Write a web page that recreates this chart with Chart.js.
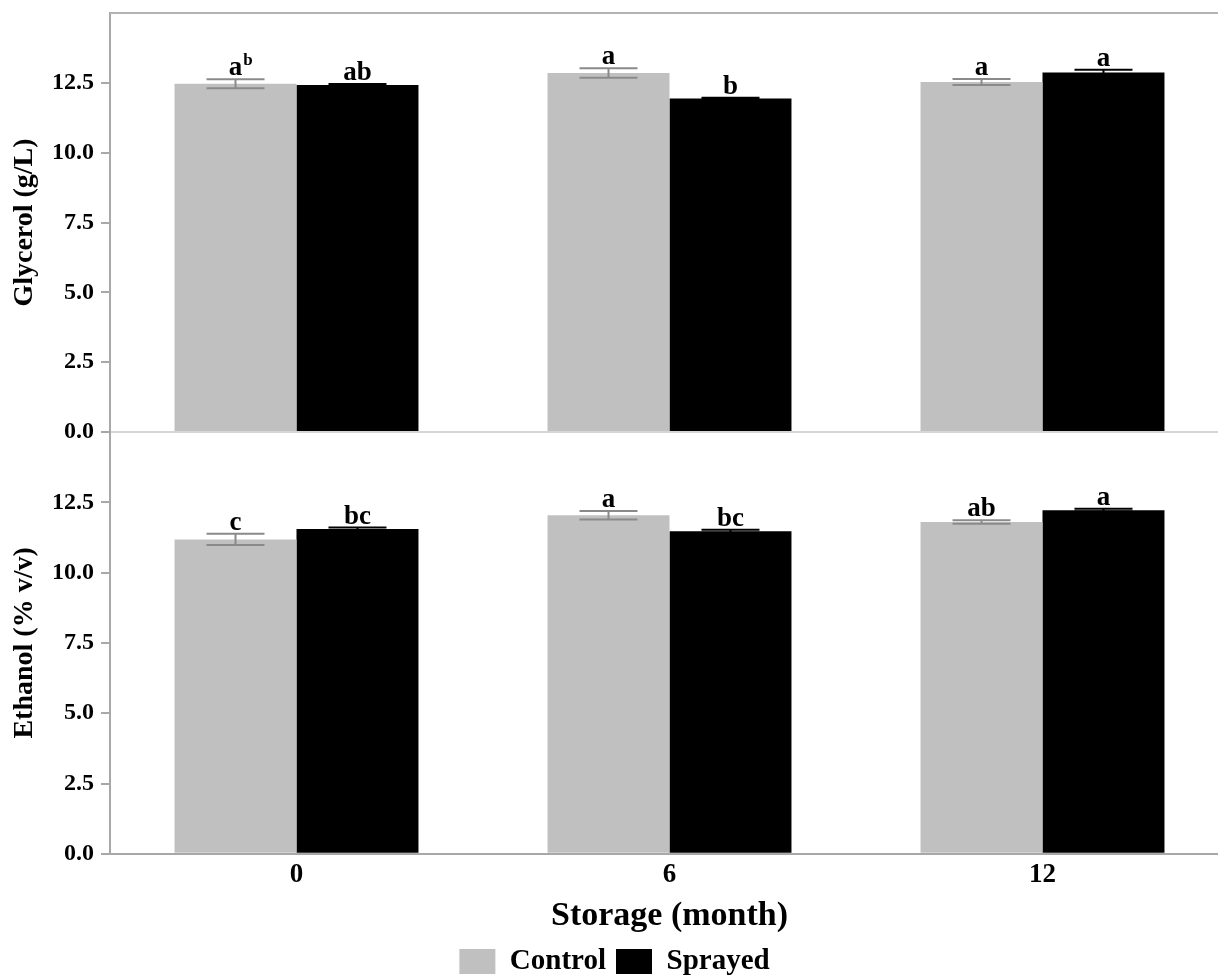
<!DOCTYPE html>
<html>
<head>
<meta charset="utf-8">
<script src="https://cdn.jsdelivr.net/npm/chart.js@4.4.1/dist/chart.umd.min.js"></script>
<style>
  html, body { margin: 0; padding: 0; background: #fff; overflow: hidden; width: 1218px; height: 976px; }
  #wrap { position: relative; width: 1218px; height: 976px; overflow: hidden; }
  canvas { position: absolute; left: 0; }
  #glycerolChart { top: 0; }
  #ethanolChart { top: 424px; }
</style>
</head>
<body>
<div id="wrap">
  <canvas id="glycerolChart" width="1240" height="440"></canvas>
  <canvas id="ethanolChart" width="1240" height="562"></canvas>
</div>
<script>
// Storage time categories
const months = ['0', '6', '12'];

// Glycerol (g/L): means, standard errors and significance letters
const glycerolControl = [12.47, 12.85, 12.53];
const glycerolControlErr = [0.16, 0.17, 0.11];
const glycerolSprayed = [12.42, 11.94, 12.87];
const glycerolSprayedErr = [0.04, 0.03, 0.10];
const glycerolControlLetters = ['a^b', 'a', 'a'];
const glycerolSprayedLetters = ['ab', 'b', 'a'];

// Ethanol (% v/v): means, standard errors and significance letters
const ethanolControl = [11.18, 12.04, 11.80];
const ethanolControlErr = [0.20, 0.15, 0.06];
const ethanolSprayed = [11.55, 11.47, 12.22];
const ethanolSprayedErr = [0.05, 0.05, 0.05];
const ethanolControlLetters = ['c', 'a', 'ab'];
const ethanolSprayedLetters = ['bc', 'bc', 'a'];

// Shared y tick range
const yMax = 15;
const yStep = 2.5;
const yLastTick = 12.5;

const SERIF = '"Liberation Serif", "Times New Roman", Times, serif';
const AXIS_GRAY = '#a8a8a8';
const CONTROL_FILL = '#c0c0c0';
const SPRAYED_FILL = '#000000';

// Error bars plus the significance letters above each bar
const errorBarsPlugin = {
  id: 'errorBars',
  afterDatasetsDraw(chart) {
    const { ctx } = chart;
    const yScale = chart.scales.y;
    chart.data.datasets.forEach((ds, i) => {
      const meta = chart.getDatasetMeta(i);
      meta.data.forEach((bar, j) => {
        const v = ds.data[j];
        const e = ds.errors[j];
        const hi = yScale.getPixelForValue(v + e);
        const lo = yScale.getPixelForValue(v - e);
        const half = 29;
        ctx.save();
        ctx.strokeStyle = ds.errorColor;
        ctx.lineWidth = 2;
        ctx.beginPath();
        ctx.moveTo(bar.x, hi); ctx.lineTo(bar.x, lo);
        ctx.moveTo(bar.x - half, hi); ctx.lineTo(bar.x + half, hi);
        ctx.moveTo(bar.x - half, lo); ctx.lineTo(bar.x + half, lo);
        ctx.stroke();

        const [main, sup] = ds.letters[j].split('^');
        const ty = hi - 4;
        ctx.fillStyle = '#000';
        ctx.font = `bold 27px ${SERIF}`;
        ctx.textAlign = 'center';
        ctx.textBaseline = 'alphabetic';
        ctx.fillText(main, bar.x, ty);
        if (sup) {
          const w = ctx.measureText(main).width;
          ctx.font = `bold 17px ${SERIF}`;
          ctx.textAlign = 'left';
          ctx.fillText(sup, bar.x + w / 2 + 1, ty - 10);
        }
        ctx.restore();
      });
    });
  }
};

// Frame lines: top border of the upper panel and the light baseline between panels
const frameLinesPlugin = {
  id: 'frameLines',
  beforeDatasetsDraw(chart, args, opts) {
    const { ctx, chartArea } = chart;
    ctx.save();
    ctx.lineWidth = 2;
    if (opts.top) {
      ctx.strokeStyle = '#b4b4b4';
      ctx.beginPath();
      ctx.moveTo(chartArea.left, chartArea.top);
      ctx.lineTo(chartArea.right, chartArea.top);
      ctx.stroke();
    }
    if (opts.baseline) {
      const y0 = chart.scales.y.getPixelForValue(0);
      ctx.strokeStyle = '#d6d6d6';
      ctx.beginPath();
      ctx.moveTo(chartArea.left, y0);
      ctx.lineTo(chartArea.right, y0);
      ctx.stroke();
    }
    ctx.restore();
  }
};

function yAxis(title) {
  return {
    min: 0,
    max: yMax,
    afterBuildTicks: s => { s.ticks = s.ticks.filter(t => t.value <= yLastTick + 1e-9); },
    afterFit: s => { s.width = 110; s.paddingTop = 0; s.paddingBottom = 0; },
    ticks: {
      stepSize: yStep,
      color: '#000',
      padding: 7,
      font: { family: SERIF, size: 24, weight: 'bold' },
      callback: v => Number(v).toFixed(1)
    },
    grid: { display: true, drawOnChartArea: false, drawTicks: true, tickLength: 9, color: AXIS_GRAY, lineWidth: 2 },
    border: { display: true, color: AXIS_GRAY, width: 2 },
    title: {
      display: true,
      text: title,
      color: '#000',
      font: { family: SERIF, size: 28, weight: 'bold' },
      padding: { top: 8, bottom: 0 }
    }
  };
}

function makeDatasets(ctrl, ctrlErr, ctrlLetters, spr, sprErr, sprLetters) {
  return [
    {
      label: 'Control',
      data: ctrl,
      errors: ctrlErr,
      letters: ctrlLetters,
      errorColor: '#8a8a8a',
      backgroundColor: CONTROL_FILL,
      borderWidth: 0,
      categoryPercentage: 0.654,
      barPercentage: 1.0
    },
    {
      label: 'Sprayed',
      data: spr,
      errors: sprErr,
      letters: sprLetters,
      errorColor: '#000000',
      backgroundColor: SPRAYED_FILL,
      borderWidth: 0,
      categoryPercentage: 0.654,
      barPercentage: 1.0
    }
  ];
}

// Upper panel: glycerol
new Chart(document.getElementById('glycerolChart'), {
  type: 'bar',
  data: {
    labels: months,
    datasets: makeDatasets(glycerolControl, glycerolControlErr, glycerolControlLetters,
                           glycerolSprayed, glycerolSprayedErr, glycerolSprayedLetters)
  },
  options: {
    responsive: false,
    animation: false,
    layout: { padding: { top: 13, bottom: 8, left: 0, right: 11 } },
    scales: {
      x: { display: false, offset: true },
      y: yAxis('Glycerol (g/L)')
    },
    plugins: {
      legend: { display: false },
      tooltip: { enabled: false },
      frameLines: { top: true, baseline: true }
    }
  },
  plugins: [frameLinesPlugin, errorBarsPlugin]
});

// Lower panel: ethanol, with the shared x axis and legend
new Chart(document.getElementById('ethanolChart'), {
  type: 'bar',
  data: {
    labels: months,
    datasets: makeDatasets(ethanolControl, ethanolControlErr, ethanolControlLetters,
                           ethanolSprayed, ethanolSprayedErr, ethanolSprayedLetters)
  },
  options: {
    responsive: false,
    animation: false,
    layout: { padding: { top: 8, bottom: 0, left: 0, right: 11 } },
    scales: {
      x: {
        offset: true,
        afterFit: s => { s.paddingLeft = 0; s.paddingRight = 0; },
        ticks: { color: '#000', padding: 5, font: { family: SERIF, size: 27, weight: 'bold' } },
        grid: { display: false, drawTicks: false },
        border: { display: true, color: AXIS_GRAY, width: 2 },
        title: {
          display: true,
          text: 'Storage (month)',
          color: '#000',
          font: { family: SERIF, size: 34, weight: 'bold' },
          padding: { top: 0, bottom: 0 }
        }
      },
      y: yAxis('Ethanol (% v/v)')
    },
    plugins: {
      legend: {
        display: true,
        position: 'bottom',
        labels: {
          color: '#000',
          boxWidth: 36,
          boxHeight: 25,
          padding: 10,
          font: { family: SERIF, size: 29, weight: 'bold' }
        }
      },
      tooltip: { enabled: false },
      frameLines: { top: false, baseline: false }
    }
  },
  plugins: [frameLinesPlugin, errorBarsPlugin]
});
</script>
</body>
</html>
